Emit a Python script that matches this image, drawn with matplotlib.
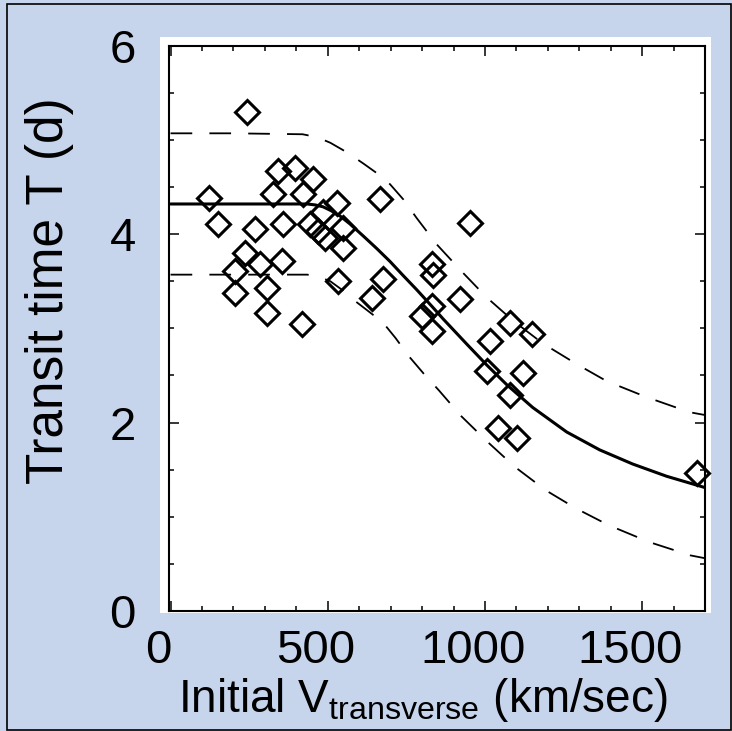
import numpy as np
import matplotlib.pyplot as plt
import matplotlib.transforms as mtransforms
from matplotlib.patches import Rectangle
from matplotlib.ticker import MultipleLocator

plt.rcParams['font.family'] = ['Liberation Sans', 'DejaVu Sans']

# observed events: initial transverse speed (km/s) vs transit time (days)
speed = [244, 121, 152, 343, 397, 454, 327, 422, 359, 270,
         530, 444, 470, 486, 549, 549, 492, 238, 286, 356,
         206, 308, 206, 308, 419, 533, 667, 676, 641, 832,
         835, 952, 921, 832, 800, 832, 1079, 1149, 1016, 1121,
         1006, 1079, 1041, 1102, 1673]
transit = [5.30, 4.38, 4.11, 4.67, 4.70, 4.58, 4.43, 4.43, 4.11, 4.05,
           4.33, 4.11, 4.03, 4.24, 4.06, 3.85, 3.96, 3.80, 3.68, 3.71,
           3.61, 3.43, 3.37, 3.16, 3.05, 3.50, 4.37, 3.52, 3.32, 3.68,
           3.57, 4.12, 3.31, 3.24, 3.13, 2.97, 3.06, 2.94, 2.87, 2.53,
           2.55, 2.29, 1.94, 1.84, 1.47]

# model curve and the two envelope curves
fit_v = [0, 200, 435, 460, 485, 510, 540, 570, 613, 655, 698, 740, 783,
         835, 867, 943, 1006, 1070, 1152, 1260, 1365, 1470, 1578, 1700]
fit_t = [4.32, 4.32, 4.32, 4.31, 4.29, 4.25, 4.19, 4.11, 3.98, 3.85, 3.71,
         3.56, 3.41, 3.22, 3.10, 2.83, 2.61, 2.40, 2.16, 1.90, 1.71, 1.56,
         1.43, 1.31]

upper_v = [0, 200, 420, 465, 508, 560, 613, 655, 698, 740, 783, 847,
           930, 1005, 1090, 1184, 1292, 1387, 1514, 1651, 1700]
upper_t = [5.07, 5.07, 5.06, 5.03, 4.97, 4.87, 4.75, 4.65, 4.53, 4.37, 4.17,
           3.89, 3.59, 3.33, 3.08, 2.84, 2.62, 2.44, 2.27, 2.11, 2.08]

lower_v = [0, 200, 435, 470, 508, 545, 587, 630, 676, 715, 759, 805,
           854, 924, 1010, 1095, 1194, 1289, 1394, 1524, 1654, 1700]
lower_t = [3.57, 3.57, 3.57, 3.55, 3.50, 3.41, 3.29, 3.18, 3.06, 2.90, 2.70,
           2.52, 2.34, 2.07, 1.79, 1.53, 1.28, 1.09, 0.91, 0.73, 0.59, 0.56]

xticks = [0, 500, 1000, 1500]
yticks = [0, 2, 4, 6]

bg = '#c6d4ec'
fig = plt.figure(figsize=(7.32, 7.31), dpi=100, facecolor=bg)

# thin black frame round the slide and the white "paper" of the scanned plot
fig.patches.append(Rectangle((7 / 732, 0.002), 1 - 7 / 732 - 0.002, 1 - 4 / 731 - 0.002,
                             transform=fig.transFigure, fill=False,
                             edgecolor='black', linewidth=1.2, zorder=-2))
fig.patches.append(Rectangle((160 / 732, 1 - 613 / 731), 551 / 732, 576 / 731,
                             transform=fig.transFigure, facecolor='white',
                             edgecolor='none', zorder=-1))

ax = fig.add_axes([169 / 732, 1 - 611 / 731, 536 / 732, 565.3 / 731])
ax.set_zorder(1)
ax.set_facecolor('white')

ax.plot(fit_v, fit_t, color='black', lw=2.2, solid_capstyle='round',
        solid_joinstyle='round')
ax.plot(upper_v, upper_t, color='black', lw=1.3, dashes=(12, 9.5))
ax.plot(lower_v, lower_t, color='black', lw=1.3, dashes=(12, 9.5))
ax.plot(speed, transit, linestyle='none', marker='D', ms=12.5,
        mfc='none', mec='black', mew=2.2, clip_on=False)

ax.set_xlim(-5, 1700)
ax.set_ylim(0, 5.98)
ax.set_xticks(xticks)
ax.set_yticks(yticks)
ax.xaxis.set_minor_locator(MultipleLocator(100))
ax.yaxis.set_minor_locator(MultipleLocator(0.5))
ax.tick_params(which='both', direction='in', top=True, right=True,
               width=1.1, labelsize=34)
ax.tick_params(which='major', length=7)
ax.tick_params(which='minor', length=3.5)
ax.tick_params(axis='y', pad=24)
ax.tick_params(axis='x', pad=13)
for s in ax.spines.values():
    s.set_linewidth(1.5)

# x tick labels sit a bit left of their ticks in the reference
shift = mtransforms.ScaledTranslation(-12 / 100, 0, fig.dpi_scale_trans)
for lbl in ax.get_xticklabels():
    lbl.set_transform(lbl.get_transform() + shift)

fig.text(50 / 732, 1 - 291 / 731, 'Transit time T (d)', rotation=90,
         ha='center', va='center', fontsize=37)
fig.text(423 / 732, 1 - 712 / 731,
         r'Initial V$_{\mathregular{transverse}}$ (km/sec)',
         ha='center', va='baseline', fontsize=33)

fig.savefig('out.png', dpi=100, facecolor=bg)
